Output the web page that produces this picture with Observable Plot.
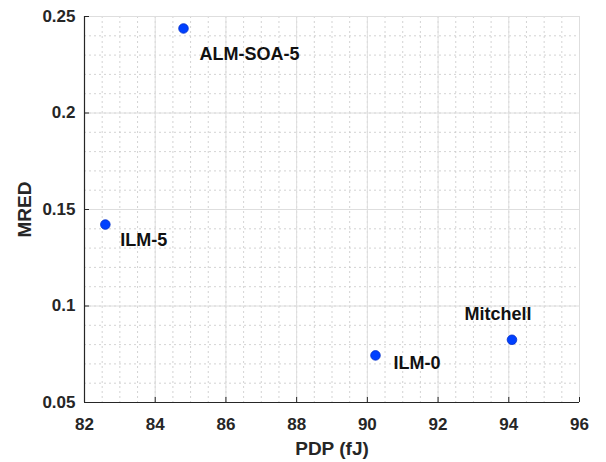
<!DOCTYPE html>
<html><head><meta charset="utf-8">
<script src="https://cdn.jsdelivr.net/npm/d3@7"></script>
<script src="https://cdn.jsdelivr.net/npm/@observablehq/plot@0.6"></script>
<style>body{margin:0;background:#fff;font-family:"Liberation Sans",Arial,sans-serif;}</style>
</head><body><div id="chart"></div>
<script>
const names = ["ALM-SOA-5", "ILM-5", "ILM-0", "Mitchell"];
const pdp = [84.80, 82.59, 90.23, 94.09];
const mred = [0.2438, 0.1422, 0.0744, 0.0825];
const xTicks = [82, 84, 86, 88, 90, 92, 94, 96];
const yTicks = [0.05, 0.1, 0.15, 0.2, 0.25];
const xMinor = d3.range(82, 96.001, 0.5);
const yMinor = d3.range(0.05, 0.2501, 0.01);

const data = names.map((n, i) => ({name: n, x: pdp[i], y: mred[i]}));
const ink = "#262626";
const lab = (name, dx, dy, anchor) => Plot.text(data.filter(d => d.name === name), {
  x: "x", y: "y", text: "name", dx, dy, textAnchor: anchor,
  fontSize: 18, fontWeight: "bold", fill: "#111"
});

const chart = Plot.plot({
  width: 606, height: 462,
  marginLeft: 84, marginRight: 27, marginTop: 16, marginBottom: 60,
  style: {fontFamily: "'Liberation Sans', Arial, sans-serif", background: "#fff"},
  x: {domain: [82, 96]},
  y: {domain: [0.05, 0.25]},
  marks: [
    Plot.gridX(xMinor, {stroke: "#c8c8c8", strokeOpacity: 1, strokeDasharray: "2,3", strokeWidth: 0.8}),
    Plot.gridY(yMinor, {stroke: "#c8c8c8", strokeOpacity: 1, strokeDasharray: "2,3", strokeWidth: 0.8}),
    Plot.gridX(xTicks, {stroke: "#dedede", strokeOpacity: 1}),
    Plot.gridY(yTicks, {stroke: "#dedede", strokeOpacity: 1}),
    Plot.ruleY([0.05], {stroke: ink, strokeWidth: 1.2}),
    Plot.ruleX([82], {stroke: ink, strokeWidth: 1.2}),
    Plot.axisX(xTicks, {tickSize: -5, text: null, stroke: ink, label: null}),
    Plot.axisY(yTicks, {tickSize: -5, text: null, stroke: ink, label: null}),
    Plot.axisX(xTicks, {tickSize: 0, tickPadding: 15, fontSize: 17, fontWeight: "bold", fill: ink,
      label: "PDP (fJ)", labelAnchor: "center", labelArrow: "none", labelOffset: 52}),
    Plot.axisY(yTicks, {tickSize: 0, tickPadding: 9, fontSize: 17, fontWeight: "bold", fill: ink,
      tickFormat: d => String(+d.toFixed(2)),
      label: "MRED", labelAnchor: "center", labelArrow: "none", labelOffset: 67}),
    Plot.dot(data, {x: "x", y: "y", r: 4.8, fill: "#0040ff", stroke: "#002cc8", strokeWidth: 0.8}),
    lab("ALM-SOA-5", 16, 26, "start"),
    lab("ILM-5", 15, 16, "start"),
    lab("ILM-0", 18, 8, "start"),
    lab("Mitchell", -14, -26, "middle")
  ]
});
chart.querySelectorAll("[aria-label='x-axis label'] text, [aria-label='y-axis label'] text").forEach(t => {
  t.setAttribute("font-size", "19"); t.setAttribute("font-weight", "bold"); t.setAttribute("fill", ink);
});
document.getElementById("chart").append(chart);
</script></body></html>
